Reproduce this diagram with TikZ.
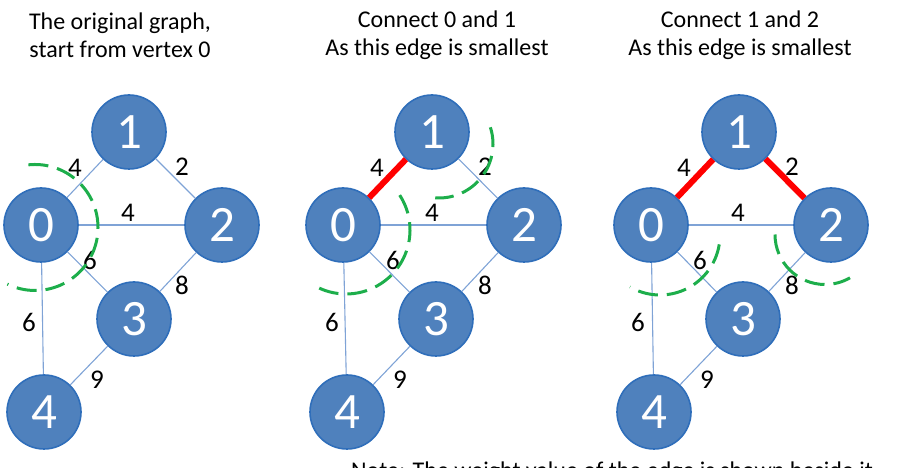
\documentclass[tikz,border=0pt]{standalone}
\usepackage{fontspec}
\setmainfont{Carlito}
\definecolor{nodefill}{HTML}{4F81BD}
\definecolor{nodeline}{HTML}{2F6EBA}
\definecolor{edgeblue}{HTML}{7FA3D6}
\definecolor{cutgreen}{HTML}{1DAE4B}
\tikzset{
  vtx/.style={circle,fill=nodefill,draw=nodeline,line width=1.6pt,minimum size=74pt,inner sep=0pt,text=white,font=\fontsize{51}{51}\selectfont},
  edg/.style={draw=edgeblue,line width=1.1pt},
  redg/.style={draw=red,line width=6pt},
  wt/.style={font=\fontsize{27}{27}\selectfont,text=black,inner sep=0pt},
  cut/.style={draw=cutgreen,line width=3pt,dash pattern=on 20pt off 9pt},
  head/.style={font=\fontsize{24}{28}\selectfont,align=center,inner sep=0pt}
}
\begin{document}
\begin{tikzpicture}[x=1pt,y=1pt]
\useasboundingbox (0,0) rectangle (899,468);
\clip (0,0) rectangle (899,468);
% headings
\node[head] (h1) at (120,433) {The original graph,\\start from vertex 0};
\node[head] (h2) at (437,433) {Connect 0 and 1\\As this edge is smallest};
\node[head] (h3) at (740,433) {Connect 1 and 2\\As this edge is smallest};
% graph 1
\node[vtx] (a0) at (41,243) {0};
\node[vtx] (a1) at (129,336) {1};
\node[vtx] (a2) at (222,243) {2};
\node[vtx] (a3) at (134,149) {3};
\node[vtx] (a4) at (44,56) {4};
% graph 2
\node[vtx] (b0) at (343,243) {0};
\node[vtx] (b1) at (432,336) {1};
\node[vtx] (b2) at (524,243) {2};
\node[vtx] (b3) at (436,149) {3};
\node[vtx] (b4) at (347,56) {4};
% graph 3
\node[vtx] (c0) at (651,243) {0};
\node[vtx] (c1) at (739,336) {1};
\node[vtx] (c2) at (831,243) {2};
\node[vtx] (c3) at (743,149) {3};
\node[vtx] (c4) at (654,56) {4};
% edges
\foreach \g in {a,b,c}{
  \draw[edg] (\g0) -- (\g2);
  \draw[edg] (\g0) -- (\g3);
  \draw[edg] (\g0) -- (\g4);
  \draw[edg] (\g2) -- (\g3);
  \draw[edg] (\g3) -- (\g4);
  \draw[edg] (\g1) -- (\g2);
}
\draw[edg] (a0) -- (a1);
\draw[redg] (b0) -- (b1);
\draw[redg] (c0) -- (c1);
\draw[redg] (c1) -- (c2);
% weights graph 1
\node[wt] (wa01) at (75,300) {4};
\node[wt] (wa12) at (182,301) {2};
\node[wt] (wa02) at (128,255) {4};
\node[wt] (wa03) at (90,208) {6};
\node[wt] (wa23) at (182,183) {8};
\node[wt] (wa04) at (29,146) {6};
\node[wt] (wa34) at (97,88) {9};
% weights graph 2
\node[wt] (wb01) at (377,300) {4};
\node[wt] (wb12) at (485,301) {2};
\node[wt] (wb02) at (432,255) {4};
\node[wt] (wb03) at (393,208) {6};
\node[wt] (wb23) at (485,183) {8};
\node[wt] (wb04) at (332,146) {6};
\node[wt] (wb34) at (400,88) {9};
% weights graph 3
\node[wt] (wc01) at (684,300) {4};
\node[wt] (wc12) at (792,301) {2};
\node[wt] (wc02) at (738,255) {4};
\node[wt] (wc03) at (700,208) {6};
\node[wt] (wc23) at (792,183) {8};
\node[wt] (wc04) at (638,146) {6};
\node[wt] (wc34) at (707,88) {9};
% cuts
\coordinate (k1) at (35,240.5);
\draw[cut] (k1) ++(96:63) arc[start angle=96,end angle=-116,radius=63];
\coordinate (k2) at (346,238);
\draw[cut] (k2) ++(33:64) arc[start angle=33,end angle=-116,radius=64];
\coordinate (k3) at (439,324);
\draw[cut] (k3) ++(18:54) arc[start angle=18,end angle=-94,radius=54];
\coordinate (k4) at (660,233);
\draw[cut] (k4) ++(-9:60) arc[start angle=-9,end angle=-120,radius=60];
\coordinate (k5) at (825,233.5);
\draw[cut] (k5) ++(180:50) arc[start angle=180,end angle=300,radius=50];
% bottom note (cut off at the lower edge, as in the reference)
\node[font=\fontsize{24}{24}\selectfont,anchor=base west,inner sep=0pt] (note) at (351,-11) {Note: The weight value of the edge is shown beside it};
\end{tikzpicture}
\end{document}
